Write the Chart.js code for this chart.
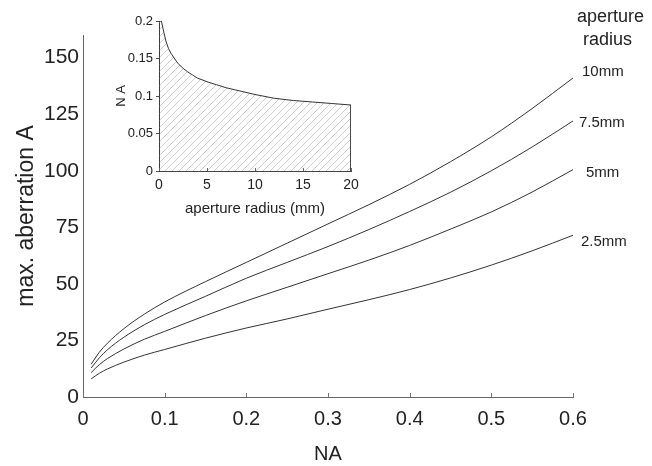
<!DOCTYPE html>
<html>
<head>
<meta charset="utf-8">
<script src="https://cdn.jsdelivr.net/npm/chart.js@4"></script>
<style>
  html, body { margin: 0; padding: 0; background: #fff; }
  #wrap { position: relative; width: 652px; height: 466px; }
  #mainChart { position: absolute; left: 0; top: 0; }
  #insetChart { position: absolute; left: 100px; top: 5px; }
</style>
</head>
<body>
<div id="wrap">
  <canvas id="mainChart" width="652" height="466"></canvas>
  <canvas id="insetChart" width="270" height="220"></canvas>
</div>
<script>
// ana grafik verisi
const naValues = [0.01, 0.02, 0.03, 0.05, 0.075, 0.1, 0.15, 0.2, 0.25, 0.3, 0.35, 0.4, 0.45, 0.5, 0.55, 0.6];
const ab10 = [14.5, 19.8, 23.8, 30.2, 36.6, 42, 51, 59.5, 68, 76.5, 85, 94, 104, 115, 127.5, 141];
const ab75 = [12.8, 17.3, 20.9, 26.4, 31.9, 36.5, 44.5, 52.5, 59.5, 66.5, 74, 82, 90.5, 100, 110.5, 122];
const ab5 = [10.8, 14.3, 17, 21.2, 25.5, 29, 36, 42.5, 48.5, 54.5, 60.5, 67, 74.2, 81.8, 90.6, 100.5];
const ab25 = [8, 10.5, 12.4, 15.4, 18.5, 21, 26, 30.5, 34.5, 38.8, 43, 47.5, 52.6, 58.3, 64.6, 71.5];
const seriesLabels = ['10mm', '7.5mm', '5mm', '2.5mm'];

// küçük grafik verisi
const radiusValues = [0, 0, 0.25, 0.5, 0.75, 1, 1.25, 1.5, 2, 2.5, 3, 3.5, 4, 5, 6, 7, 8, 10, 12, 14, 16, 18, 20, 20];
const naMax = [0, 0.2, 0.2, 0.185, 0.172, 0.163, 0.157, 0.152, 0.143, 0.137, 0.132, 0.128, 0.124, 0.119, 0.115, 0.111, 0.108, 0.102, 0.097, 0.094, 0.092, 0.090, 0.088, 0];

const FONT = "'Liberation Sans', Arial, Helvetica, sans-serif";
const INK = '#222';

function toPoints(xs, ys) {
    return xs.map((x, i) => ({ x: x, y: ys[i] }));
}

// x ekseninde içe dönük çentikler
const innerTicks = {
    id: 'innerTicks',
    afterDraw(chart, args, opts) {
        const ctx = chart.ctx;
        const xs = chart.scales.x;
        const y0 = chart.chartArea.bottom;
        ctx.save();
        ctx.strokeStyle = opts.color || '#555';
        ctx.lineWidth = 1;
        xs.ticks.forEach(t => {
            const px = Math.round(xs.getPixelForValue(t.value)) + 0.5;
            ctx.beginPath();
            ctx.moveTo(px, y0);
            ctx.lineTo(px, y0 - (opts.len || 4));
            ctx.stroke();
        });
        ctx.restore();
    }
};

// seri etiketleri ve başlık
const endLabels = {
    id: 'endLabels',
    afterDatasetsDraw(chart) {
        const ctx = chart.ctx;
        const offsets = [[9, -6], [6, 2], [13, 3], [8, 7]];
        ctx.save();
        ctx.fillStyle = INK;
        ctx.font = '15px ' + FONT;
        ctx.textBaseline = 'middle';
        chart.data.datasets.forEach((ds, i) => {
            const meta = chart.getDatasetMeta(i);
            const last = meta.data[meta.data.length - 1];
            ctx.fillText(ds.label, last.x + offsets[i][0], last.y + offsets[i][1]);
        });
        ctx.font = '18px ' + FONT;
        ctx.fillText('aperture', 577, 17);
        ctx.fillText('radius', 583, 40);
        ctx.restore();
    }
};

const lineStyle = {
    borderColor: '#333',
    borderWidth: 1,
    pointRadius: 0,
    fill: false,
    cubicInterpolationMode: 'monotone'
};

new Chart(document.getElementById('mainChart'), {
    type: 'line',
    data: {
        datasets: [
            Object.assign({ label: seriesLabels[0], data: toPoints(naValues, ab10) }, lineStyle),
            Object.assign({ label: seriesLabels[1], data: toPoints(naValues, ab75) }, lineStyle),
            Object.assign({ label: seriesLabels[2], data: toPoints(naValues, ab5) }, lineStyle),
            Object.assign({ label: seriesLabels[3], data: toPoints(naValues, ab25) }, lineStyle)
        ]
    },
    options: {
        responsive: false,
        animation: false,
        layout: { padding: { top: 35, right: 79, left: 0, bottom: 0 } },
        plugins: {
            legend: { display: false },
            tooltip: { enabled: false },
            innerTicks: { len: 4, color: '#777' }
        },
        scales: {
            x: {
                type: 'linear',
                min: 0,
                max: 0.6,
                grid: { drawOnChartArea: false, drawTicks: false },
                border: { color: '#666', width: 1 },
                ticks: { stepSize: 0.1, padding: 10, color: INK, font: { family: FONT, size: 20 } },
                title: { display: true, text: 'NA', color: INK, font: { family: FONT, size: 20 }, padding: 0 },
                afterFit(scale) { scale.height = 69; }
            },
            y: {
                min: 0,
                max: 160,
                grid: { drawOnChartArea: false, drawTicks: false },
                border: { color: '#666', width: 1 },
                ticks: { stepSize: 25, includeBounds: false, padding: 4, color: INK, font: { family: FONT, size: 21 } },
                afterBuildTicks(scale) { scale.ticks = scale.ticks.filter(t => t.value <= 150); },
                title: { display: true, text: 'max. aberration A', color: INK, font: { family: FONT, size: 23 }, padding: { top: 13, bottom: 0 } },
                afterFit(scale) { scale.width = 83; }
            }
        }
    },
    plugins: [innerTicks, endLabels]
});

// taralı dolgu deseni
function hatchPattern() {
    const p = document.createElement('canvas');
    p.width = 7;
    p.height = 7;
    const c = p.getContext('2d');
    c.strokeStyle = '#aaa';
    c.lineWidth = 0.6;
    c.beginPath();
    c.moveTo(0, 7); c.lineTo(7, 0);
    c.moveTo(-1, 1); c.lineTo(1, -1);
    c.moveTo(6, 8); c.lineTo(8, 6);
    c.stroke();
    return c.createPattern(p, 'repeat');
}

new Chart(document.getElementById('insetChart'), {
    type: 'line',
    data: {
        datasets: [{
            label: 'NA',
            data: toPoints(radiusValues, naMax),
            borderColor: '#333',
            borderWidth: 1,
            pointRadius: 0,
            tension: 0,
            fill: 'origin',
            backgroundColor: hatchPattern()
        }]
    },
    options: {
        responsive: false,
        animation: false,
        layout: { padding: { top: 16, right: 19, left: 0, bottom: 0 } },
        plugins: {
            legend: { display: false },
            tooltip: { enabled: false },
            innerTicks: { len: 3, color: '#666' }
        },
        scales: {
            x: {
                type: 'linear',
                min: 0,
                max: 20,
                grid: { drawOnChartArea: false, drawTicks: false },
                border: { color: '#444', width: 1 },
                ticks: { stepSize: 5, padding: 6, color: INK, font: { family: FONT, size: 14 } },
                title: { display: true, text: 'aperture radius (mm)', color: INK, font: { family: FONT, size: 15 }, padding: { top: 0, bottom: 7 } },
                afterFit(scale) { scale.height = 54; }
            },
            y: {
                min: 0,
                max: 0.2,
                grid: { drawOnChartArea: false, drawTicks: true, tickLength: 3, color: '#555' },
                border: { color: '#444', width: 1 },
                ticks: {
                    stepSize: 0.05,
                    padding: 3,
                    color: INK,
                    font: { family: FONT, size: 13 },
                    callback: v => String(+v.toFixed(2))
                },
                title: { display: true, text: 'N A', color: INK, font: { family: FONT, size: 13 }, padding: { top: 14, bottom: 0 } },
                afterFit(scale) { scale.width = 59; }
            }
        }
    },
    plugins: [innerTicks]
});
</script>
</body>
</html>
